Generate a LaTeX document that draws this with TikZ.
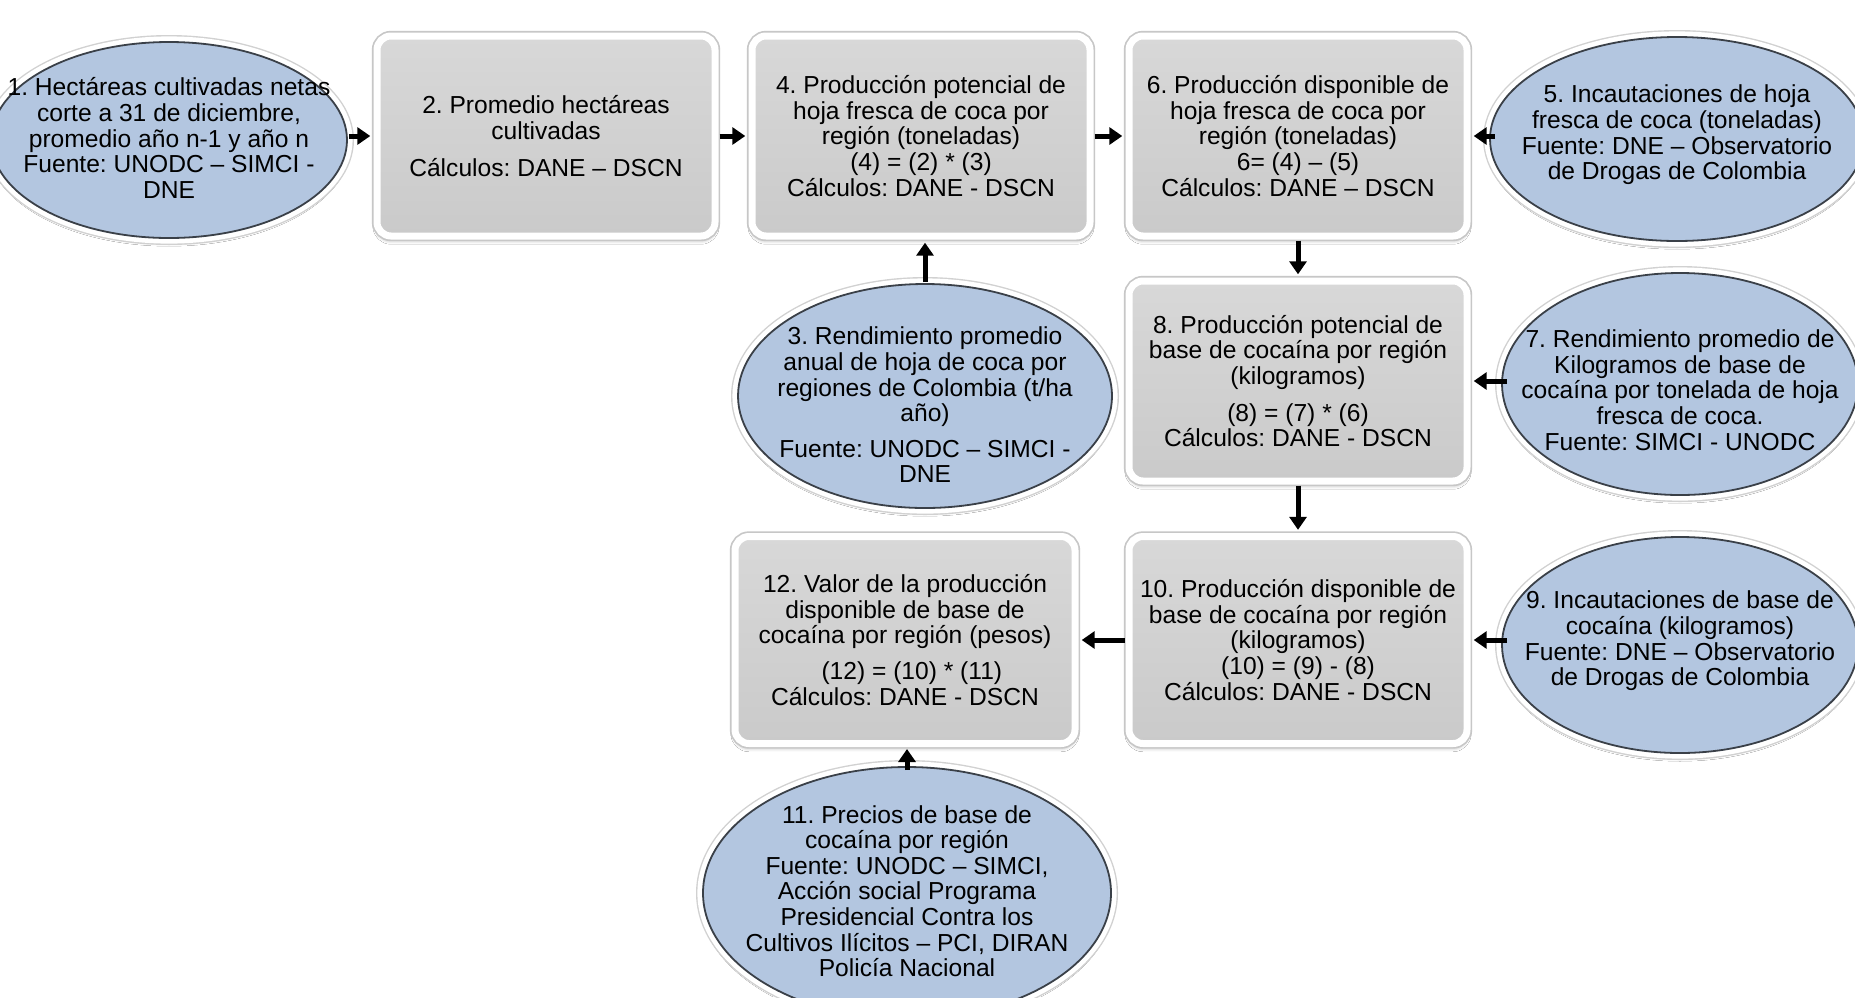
\documentclass[tikz,border=0pt]{standalone}
\usepackage{fontspec}
\setmainfont{Liberation Sans}
\usetikzlibrary{arrows.meta,shapes.geometric,shadows.blur}
\definecolor{boxtop}{HTML}{D8D8D8}
\definecolor{boxbot}{HTML}{CACACA}
\definecolor{ellblue}{HTML}{B3C6E0}
\definecolor{ellline}{HTML}{3A4048}
\tikzset{
  txt/.style={align=center, inner sep=0pt, font=\fontsize{12.3}{12.8}\selectfont},
  box/.style={txt, rectangle, rounded corners=7pt, minimum width=169pt, minimum height=100pt,
    top color=boxtop, bottom color=boxbot, draw=white, line width=3.5pt,
    blur shadow={shadow xshift=0pt, shadow yshift=-2pt, shadow opacity=35, shadow blur steps=6},
    preaction={draw=black!22, line width=5.2pt}},
  ell/.style={ellipse, inner sep=0pt, fill=ellblue, draw=ellline, line width=0.9pt,
    blur shadow={shadow xshift=0pt, shadow yshift=-2pt, shadow opacity=30, shadow blur steps=6},
    preaction={draw=black!18, line width=7pt},
    preaction={draw=white, line width=5.6pt}},
  arr/.style={line width=2.5pt, -{Triangle[length=6.5pt,width=8.5pt]}, shorten >=1.6pt, shorten <=0.5pt}
}
\frenchspacing
\begin{document}
\begin{tikzpicture}[x=0.5pt,y=-0.5pt]
\useasboundingbox[fill=white] (0,0) rectangle (1855,997);
% ellipses (sources)
\node[ell, minimum width=178pt, minimum height=98pt] (e1) at (169,140) {};
\node[txt] (t1) at (169,138) {1. Hectáreas cultivadas netas\\corte a 31 de diciembre,\\promedio año n-1 y año n\\Fuente: UNODC – SIMCI -\\DNE};
\node[ell, minimum width=187pt, minimum height=102pt] (e5) at (1677,139) {};
\node[txt] (t5) at (1677,135) {5. Incautaciones de hoja\\fresca de coca (toneladas)\\Fuente: DNE – Observatorio\\de Drogas de Colombia};
\node[ell, minimum width=187pt, minimum height=112pt] (e3) at (925,396) {};
\node[txt] (t3) at (925,405) {3. Rendimiento promedio\\anual de hoja de coca por\\regiones de Colombia (t/ha\\año)\\[5pt]Fuente: UNODC – SIMCI -\\DNE};
\node[ell, minimum width=178pt, minimum height=111pt] (e7) at (1680,384) {};
\node[txt] (t7) at (1680,390) {7. Rendimiento promedio de\\Kilogramos de base de\\cocaína por tonelada de hoja\\fresca de coca.\\Fuente: SIMCI - UNODC};
\node[ell, minimum width=178pt, minimum height=108pt] (e9) at (1680,645) {};
\node[txt] (t9) at (1680,641) {9. Incautaciones de base de\\cocaína (kilogramos)\\Fuente: DNE – Observatorio\\de Drogas de Colombia};
\node[ell, minimum width=204pt, minimum height=126pt] (e11) at (907,893) {};
\node[txt] (t11) at (907,891) {11. Precios de base de\\cocaína por región\\Fuente: UNODC – SIMCI,\\Acción social Programa\\Presidencial Contra los\\Cultivos Ilícitos – PCI, DIRAN\\Policía Nacional};
% boxes (calculations)
\node[box] (b2) at (546,136) {2. Promedio hectáreas\\cultivadas\\[5.5pt]Cálculos: DANE – DSCN};
\node[box] (b4) at (921,136) {4. Producción potencial de\\hoja fresca de coca por\\región (toneladas)\\(4) = (2) * (3)\\Cálculos: DANE - DSCN};
\node[box] (b6) at (1298,136) {6. Producción disponible de\\hoja fresca de coca por\\región (toneladas)\\6= (4) – (5)\\Cálculos: DANE – DSCN};
\node[box] (b8) at (1298,381) {8. Producción potencial de\\base de cocaína por región\\(kilogramos)\\[5.5pt](8) = (7) * (6)\\Cálculos: DANE - DSCN};
\node[box, minimum height=103.5pt] (b10) at (1298,640) {10. Producción disponible de\\base de cocaína por región\\(kilogramos)\\(10) = (9) - (8)\\Cálculos: DANE - DSCN};
\node[box, minimum width=170pt, minimum height=103.5pt] (b12) at (905,640) {12. Valor de la producción\\disponible de base de\\cocaína por región (pesos)\\[5pt]\ \ (12) = (10) * (11)\\Cálculos: DANE - DSCN};
% connectors
\draw[arr] (b2.west -| e1.east) -- (b2.west);
\draw[arr] (b2.east) -- (b4.west);
\draw[arr] (b4.east) -- (b6.west);
\draw[arr, shorten <=-3pt] (b6.east -| e5.west) -- (b6.east);
\draw[arr] (e3.north) -- (e3.north |- b4.south);
\draw[arr] (b6.south) -- (b8.north);
\draw[arr, shorten <=-3pt] (b8.east -| e7.west) -- (b8.east);
\draw[arr] (b8.south) -- (b10.north);
\draw[arr, shorten <=-3pt] (b10.east -| e9.west) -- (b10.east);
\draw[arr] (b10.west) -- (b12.east);
\draw[arr, shorten <=-2pt, shorten >=1pt] (e11.north) -- (e11.north |- b12.south);
\end{tikzpicture}
\end{document}
